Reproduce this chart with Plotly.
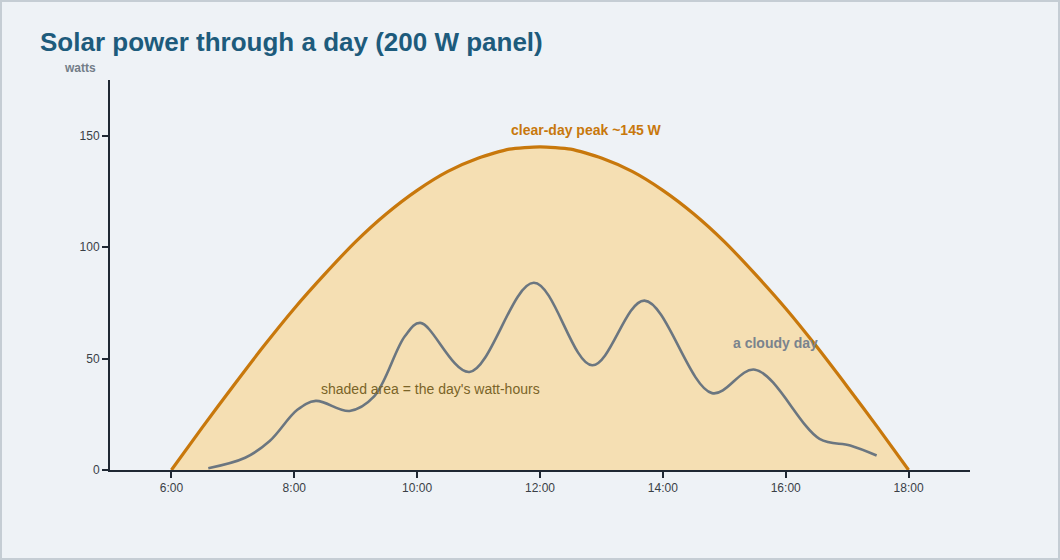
import plotly.graph_objects as go

# clear-day output (watts) at half-hour steps
clear_hours = [6.0, 6.5, 7.0, 7.5, 8.0, 8.5, 9.0, 9.5, 10.0, 10.5, 11.0, 11.5, 12.0,
               12.5, 13.0, 13.5, 14.0, 14.5, 15.0, 15.5, 16.0, 16.5, 17.0, 17.5, 18.0]
clear_watts = [0, 19, 37.5, 55.5, 72.5, 88, 102.5, 115, 125.5, 134, 140, 144, 145,
               144, 140, 134, 125.5, 115, 102.5, 88, 72.5, 55.5, 37.5, 19, 0]

# cloudy-day output (watts)
cloudy_hours = [6.6, 7.2, 7.6, 8.05, 8.35, 8.9, 9.3, 9.8, 10.05, 10.85, 11.9, 12.85,
                13.7, 14.8, 15.5, 16.55, 17.05, 17.48]
cloudy_watts = [0.8, 5.5, 13, 27, 31, 26.5, 33, 60, 66, 44, 84, 47,
                76, 34.5, 45, 14, 11, 6.5]

tick_hours = [6, 8, 10, 12, 14, 16, 18]
tick_labels = ["6:00", "8:00", "10:00", "12:00", "14:00", "16:00", "18:00"]
y_ticks = [0, 50, 100, 150]

ORANGE = "#c8780c"
FILL = "#f5dfb3"
GRAY = "#6b7680"
BG = "#eef2f6"
AXIS = "#1f2833"

fig = go.Figure()
fig.add_trace(go.Scatter(
    x=clear_hours, y=clear_watts, mode="lines",
    line=dict(color=ORANGE, width=3.2, shape="spline", smoothing=0.6),
    fill="tozeroy", fillcolor=FILL, hoverinfo="skip", showlegend=False))
fig.add_trace(go.Scatter(
    x=cloudy_hours, y=cloudy_watts, mode="lines",
    line=dict(color=GRAY, width=2.6, shape="spline", smoothing=1.0),
    hoverinfo="skip", showlegend=False))

fig.update_layout(
    width=1060, height=560,
    paper_bgcolor=BG, plot_bgcolor=BG,
    margin=dict(l=110, r=90, t=80, b=90),
    font=dict(family="Liberation Sans, Arial, sans-serif", size=12, color="#3a3f46"),
    title=dict(text="<b>Solar power through a day (200 W panel)</b>",
               x=40 / 1060, xanchor="left", y=1 - 42 / 560, yanchor="middle",
               font=dict(size=26, color="#1d5b7c")),
    xaxis=dict(range=[5, 19], tickvals=tick_hours, ticktext=tick_labels,
               showgrid=False, zeroline=False, showline=True, linecolor=AXIS,
               linewidth=2, ticks="outside", ticklen=6, tickwidth=2, tickcolor=AXIS,
               tickfont=dict(size=12, color="#3a3f46")),
    yaxis=dict(range=[0, 175], tickvals=y_ticks, showgrid=False, zeroline=False,
               showline=True, linecolor=AXIS, linewidth=2, ticks="outside",
               ticklen=6, tickwidth=2, tickcolor=AXIS,
               tickfont=dict(size=12, color="#3a3f46")),
    showlegend=False,
)

fig.add_annotation(text="<b>watts</b>", xref="paper", yref="paper",
                   x=(79.5 - 110) / 860, y=(470 - 68) / 390, showarrow=False,
                   xanchor="center", yanchor="middle",
                   font=dict(size=12, color="#737d88"))
fig.add_annotation(text="<b>clear-day peak ~145 W</b>", x=12.76, y=152.7,
                   showarrow=False, xanchor="center", yanchor="middle",
                   font=dict(size=14, color=ORANGE))
fig.add_annotation(text="<b>a cloudy day</b>", x=15.84, y=56.9,
                   showarrow=False, xanchor="center", yanchor="middle",
                   font=dict(size=14, color="#7a838d"))
fig.add_annotation(text="shaded area = the day's watt-hours", x=10.22, y=36.3,
                   showarrow=False, xanchor="center", yanchor="middle",
                   font=dict(size=14, color="#7a6428"))

# outer frame of the image
fig.add_shape(type="rect", xref="paper", yref="paper",
              x0=(1 - 110) / 860, x1=(1059 - 110) / 860,
              y0=(470 - 559) / 390, y1=(470 - 1) / 390,
              line=dict(color="#c5cdd4", width=2), fillcolor="rgba(0,0,0,0)",
              layer="below")

fig.write_html("out.html")
